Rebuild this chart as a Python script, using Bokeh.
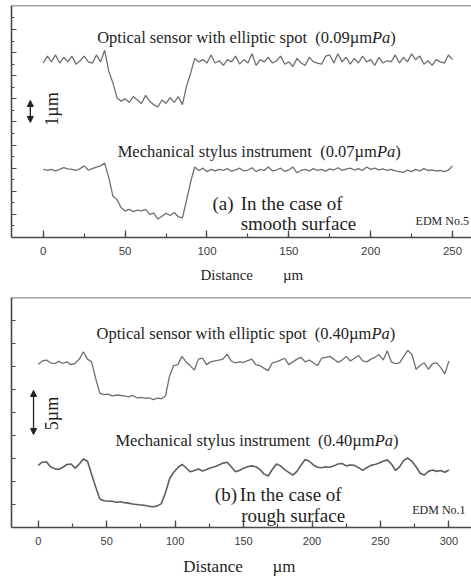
import numpy as np
from bokeh.plotting import figure
from bokeh.models import (Range1d, FixedTicker, SingleIntervalTicker, CustomJSTickFormatter,
                          Arrow, NormalHead, Span, Label)
from bokeh.layouts import column
from bokeh.embed import file_html
from bokeh.resources import INLINE

# ---------------- data: panel (a) smooth surface, EDM No.5 ----------------
dist_a = np.arange(0, 250.01, 2.5)          # µm
optical_a = [7.55, 7.85, 7.6, 7.9, 7.55, 7.8, 7.6, 7.85, 7.5, 7.65,
             7.85, 7.6, 7.55, 7.9, 7.6, 8.1, 7.2, 6.7, 6.05, 5.9,
             6.0, 5.85, 6.1, 5.95, 5.8, 6.15, 5.9, 5.75, 5.65, 5.95,
             5.8, 6.05, 5.85, 6.1, 5.75, 6.55, 7.1, 7.75, 7.6, 7.7,
             7.55, 7.9, 7.55, 7.65, 7.45, 7.7, 7.6, 7.85, 7.5, 7.7,
             7.55, 7.95, 7.45, 7.7, 7.6, 7.8, 7.55, 7.65, 7.85, 7.5,
             7.6, 7.4, 7.75, 7.55, 7.45, 7.8, 7.6, 7.55, 7.5, 7.85,
             7.9, 7.55, 7.95, 7.6, 7.8, 7.5, 7.75, 7.55, 7.85, 7.6,
             7.7, 7.45, 7.8, 7.55, 7.65, 7.6, 7.9, 7.55, 7.8, 7.6,
             7.95, 7.7, 7.85, 7.5, 7.65, 7.45, 7.7, 7.6, 7.55, 7.9, 7.7]
stylus_a = [2.95, 2.9, 2.95, 2.88, 2.95, 3.02, 2.97, 2.95, 2.9, 2.98,
            3.1, 2.92, 2.98, 3.05, 3.1, 3.22, 2.6, 1.8, 1.65, 1.3,
            1.15, 1.22, 1.12, 1.18, 1.15, 1.22, 1.0, 1.05, 0.8, 0.92,
            1.05, 0.95, 1.08, 0.9, 0.85, 1.6, 2.4, 3.05, 2.9, 3.0,
            2.85, 2.95, 2.88, 2.95, 2.9, 2.98, 2.87, 2.93, 3.0, 2.88,
            2.92, 3.02, 2.85, 2.95, 2.9, 3.05, 2.88, 2.92, 3.0, 2.86,
            2.93, 3.05, 2.8, 2.9, 2.95, 2.88, 2.98, 2.9, 2.95, 2.87,
            2.97, 2.92, 3.02, 2.9, 2.96, 3.0, 2.92, 2.98, 2.9, 3.05,
            2.95, 3.0, 2.93, 2.97, 2.9, 2.95, 2.88, 2.85, 2.82, 2.92,
            2.85, 2.95, 2.88, 2.98, 2.9, 2.93, 2.87, 2.9, 2.85, 2.92, 3.1]

# ---------------- data: panel (b) rough surface, EDM No.1 ----------------
dist_b = np.arange(0, 300.01, 3.0)          # µm
optical_b = [17.75, 18.1, 18.2, 17.9, 17.8, 18.05, 17.85, 18.0, 17.7, 17.85,
             18.3, 19.1, 18.3, 18.0, 16.2, 14.6, 14.45, 14.5, 14.3, 14.4,
             14.35, 14.3, 14.2, 14.35, 14.1, 14.15, 14.05, 14.1, 13.9, 14.05,
             14.0, 14.3, 16.5, 17.6, 17.7, 18.6, 18.0, 17.6, 17.1, 18.3,
             18.4, 17.7, 18.0, 18.1, 18.2, 18.3, 18.85, 18.1, 17.9, 18.0,
             17.95, 18.15, 18.3, 17.7, 17.6, 17.3, 17.05, 17.9, 18.0, 18.2,
             18.4, 17.7, 18.0, 18.3, 18.5, 18.0, 18.2, 17.9, 17.6, 18.4,
             18.5, 18.6, 18.3, 17.95, 18.2, 18.6, 18.1, 18.4, 18.7, 18.1,
             18.0, 18.3, 18.5, 18.8, 18.2, 19.2, 18.0, 17.8, 17.9, 18.6,
             19.25, 18.8, 17.2, 17.6, 17.9, 17.2, 17.8, 17.9, 17.4, 16.7, 18.1]
stylus_b = [6.75, 7.1, 7.15, 6.6, 6.4, 6.3, 6.55, 6.85, 6.9, 6.45,
            6.9, 7.45, 7.2, 5.8, 4.4, 3.1, 2.9, 2.85, 2.85, 2.75,
            2.8, 2.7, 2.65, 2.55, 2.5, 2.45, 2.4, 2.3, 2.25, 2.35,
            2.6, 3.8, 5.3, 6.0, 6.5, 6.85, 6.5, 6.05, 6.2, 6.35,
            6.15, 6.3, 6.5, 6.6, 6.8, 7.0, 7.1, 6.6, 6.05, 6.2,
            6.45, 6.6, 6.7, 6.6, 6.3, 5.8, 5.6, 6.3, 6.9, 6.7,
            6.3, 6.0, 5.7, 6.1, 6.8, 7.4, 7.2, 6.8, 6.55, 6.5,
            6.6, 6.55, 6.7, 6.9, 6.95, 6.7, 6.8, 6.75, 6.5, 6.2,
            6.5, 6.75, 6.85, 7.0, 7.2, 7.35, 6.9, 6.2, 6.6, 7.3,
            7.55, 7.2, 6.6, 5.9, 5.7, 6.1, 6.25, 6.1, 6.2, 6.0, 6.25]

yticks_a = [1, 2, 3, 4, 5, 6, 7, 8, 9]
yminor_a = [0.5, 1.5, 2.5, 3.5, 4.5, 5.5, 6.5, 7.5, 8.5, 9.5]
yticks_b = [2.5, 5, 7.5, 10, 12.5, 15, 17.5, 20, 22.5]

texts_a = {"opt": "Optical sensor with elliptic spot \u00a0(0.09µm",
           "sty": "Mechanical stylus instrument \u00a0(0.07µm",
           "tag": "(a)", "case1": "In the case of", "case2": "smooth surface",
           "edm": "EDM No.5", "scale": "1µm",
           "xlabel": "\u00a0" * 5 + "Distance" + "\u00a0" * 8 + "µm"}
texts_b = {"opt": "Optical sensor with elliptic spot \u00a0(0.40µm",
           "sty": "Mechanical stylus instrument \u00a0(0.40µm",
           "tag": "(b)", "case1": "In the case of", "case2": "rough surface",
           "edm": "EDM No.1", "scale": "5µm",
           "xlabel": "Distance" + "\u00a0" * 7 + "µm" + "\u00a0"}

SERIF = "Liberation Serif"
SANS = "Liberation Sans"
AXC = "#4a4a4a"
LINEC = "#6f6f6f"
TXT = "#1e1e1e"
TITLE_SIZE = "16.5px"


def base_fig(fw, fh, xr, yr, left, top, bottom):
    p = figure(frame_width=fw, frame_height=fh, x_range=Range1d(*xr), y_range=Range1d(*yr),
               output_backend="svg", toolbar_location=None,
               min_border_left=left, min_border_right=0, min_border_top=top,
               min_border_bottom=bottom, background_fill_color="white",
               border_fill_color="white", outline_line_color=None)
    p.grid.visible = False
    ax = p.xaxis[0]
    ax.ticker = SingleIntervalTicker(interval=50, num_minor_ticks=2)
    ax.axis_line_color = AXC
    ax.axis_line_width = 1.6
    ax.major_tick_line_color = AXC
    ax.major_tick_line_width = 1.3
    ax.minor_tick_line_color = AXC
    ax.minor_tick_line_width = 1.2
    ax.major_tick_in = 7
    ax.major_tick_out = 0
    ax.minor_tick_in = 4
    ax.minor_tick_out = 0
    ax.major_label_text_font = SANS
    ax.major_label_text_color = "#3c3c3c"
    ax.axis_label_text_font = SERIF
    ax.axis_label_text_font_style = "normal"
    ax.axis_label_text_color = TXT
    ay = p.yaxis[0]
    ay.axis_line_color = AXC
    ay.axis_line_width = 1.6
    ay.major_tick_line_color = AXC
    ay.major_tick_line_width = 1.2
    ay.minor_tick_line_color = AXC
    ay.minor_tick_line_width = 1.2
    ay.major_tick_out = 0
    ay.minor_tick_out = 0
    ay.formatter = CustomJSTickFormatter(code="return ''")
    ay.major_label_standoff = 0
    ay.major_label_text_font_size = "1px"
    p.add_layout(Span(location=yr[1], dimension="width", line_color=AXC, line_width=1.5))
    return p


def lab(p, x, y, text, size, **kw):
    p.add_layout(Label(x=x, y=y, text=text, text_font=SERIF, text_font_size=size,
                       text_color=TXT, **kw))


def title_pa(p, x, y, main):
    lab(p, x, y, main, TITLE_SIZE, text_align="right", text_baseline="alphabetic")
    lab(p, x, y, "Pa", TITLE_SIZE, text_align="left", text_baseline="alphabetic",
        text_font_style="italic")
    lab(p, x, y, ")", TITLE_SIZE, text_align="left", text_baseline="alphabetic", x_offset=18.3)


def arrow(p, x, y0, y1):
    p.add_layout(Arrow(x_start=x, y_start=y0, x_end=x, y_end=y1, line_color="#222",
                       line_width=1.3,
                       start=NormalHead(size=6, fill_color="#222", line_color="#222"),
                       end=NormalHead(size=6, fill_color="#222", line_color="#222")))


# ---------------- panel (a) ----------------
pa = base_fig(462, 232, (-19.4, 262.8), (0, 10.04), 1, 0, 53)
pa.yaxis[0].ticker = FixedTicker(ticks=yticks_a, minor_ticks=yminor_a)
pa.yaxis[0].major_tick_in = 5
pa.yaxis[0].minor_tick_in = 3
pa.xaxis[0].major_label_text_font_size = "11.5px"
pa.xaxis[0].major_label_standoff = 9
pa.xaxis[0].axis_label = texts_a["xlabel"]
pa.xaxis[0].axis_label_text_font_size = "15px"
pa.xaxis[0].axis_label_standoff = 9
pa.line(dist_a, optical_a, line_color=LINEC, line_width=1.3)
pa.line(dist_a, stylus_a, line_color=LINEC, line_width=1.3)
title_pa(pa, 200.8, 8.645, texts_a["opt"])
title_pa(pa, 203.8, 3.736, texts_a["sty"])
lab(pa, 103.4, 1.459, texts_a["tag"], "19px", text_baseline="alphabetic")
lab(pa, 120.6, 1.459, texts_a["case1"], "19px", text_baseline="alphabetic")
lab(pa, 120.6, 0.619, texts_a["case2"], "19px", text_baseline="alphabetic")
lab(pa, 227.4, 0.714, texts_a["edm"], "12px", text_baseline="alphabetic")
lab(pa, 5.1, 5.56, texts_a["scale"], "18px", text_align="center", text_baseline="middle",
    angle=np.pi / 2)
arrow(pa, -7.9, 4.98, 5.93)

# ---------------- panel (b) ----------------
pb = base_fig(460, 230, (-19.5, 316.5), (0, 25.0), 3, 7, 53)
pb.yaxis[0].ticker = FixedTicker(ticks=yticks_b, minor_ticks=[])
pb.yaxis[0].major_tick_in = 4
pb.xaxis[0].major_label_text_font_size = "11px"
pb.xaxis[0].major_label_standoff = 9
pb.xaxis[0].axis_label = texts_b["xlabel"]
pb.xaxis[0].axis_label_text_font_size = "17px"
pb.xaxis[0].axis_label_standoff = 9
pb.line(dist_b, optical_b, line_color=LINEC, line_width=1.3)
pb.line(dist_b, stylus_b, line_color="#5e5e5e", line_width=1.6)
title_pa(pb, 243.4, 21.12, texts_b["opt"])
title_pa(pb, 245.8, 9.46, texts_b["sty"])
lab(pb, 129.0, 3.59, texts_b["tag"], "19px", text_baseline="alphabetic")
lab(pb, 147.3, 3.59, texts_b["case1"], "19px", text_baseline="alphabetic")
lab(pb, 148.3, 1.30, texts_b["case2"], "19px", text_baseline="alphabetic")
lab(pb, 273.2, 1.85, texts_b["edm"], "12px", text_baseline="alphabetic")
lab(pb, 10.4, 12.39, texts_b["scale"], "18px", text_align="center", text_baseline="middle",
    angle=np.pi / 2)
arrow(pb, -3.4, 10.1, 14.9)

root = column(pa, pb, spacing=0,
              styles={"position": "absolute", "top": "5px", "left": "8px"})
open("out.html", "w").write(file_html(root, INLINE))
